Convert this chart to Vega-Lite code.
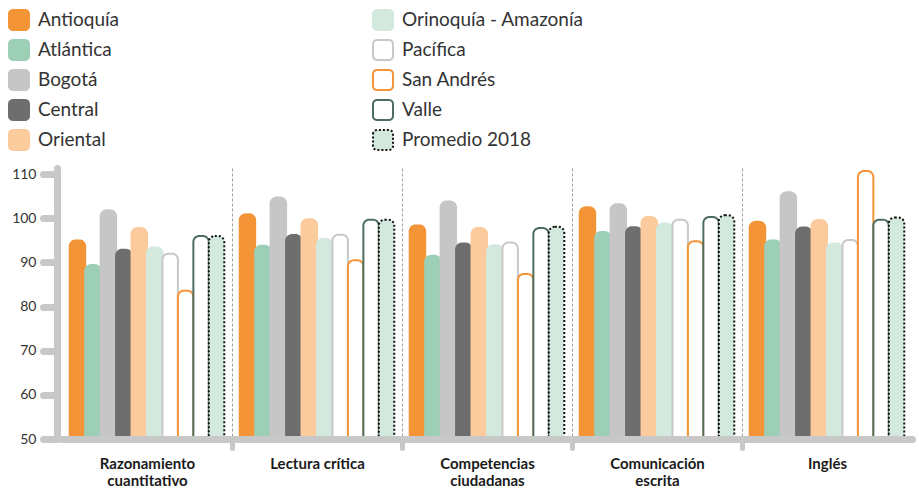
{
  "$schema": "https://vega.github.io/schema/vega-lite/v6.json",
  "width": 850,
  "height": 271,
  "autosize": {"type": "none"},
  "padding": {"left": 62, "top": 168, "right": 7, "bottom": 52},
  "background": "white",
  "config": {"view": {"stroke": null}, "font": "Lato"},
  "data": {
    "values": [
      {"prueba": "Razonamiento cuantitativo", "region": "Antioquía", "puntaje": 95.0},
      {"prueba": "Razonamiento cuantitativo", "region": "Atlántica", "puntaje": 89.4},
      {"prueba": "Razonamiento cuantitativo", "region": "Bogotá", "puntaje": 101.8},
      {"prueba": "Razonamiento cuantitativo", "region": "Central", "puntaje": 92.9},
      {"prueba": "Razonamiento cuantitativo", "region": "Oriental", "puntaje": 97.8},
      {"prueba": "Razonamiento cuantitativo", "region": "Orinoquía - Amazonía", "puntaje": 93.4},
      {"prueba": "Razonamiento cuantitativo", "region": "Pacífica", "puntaje": 92.0},
      {"prueba": "Razonamiento cuantitativo", "region": "San Andrés", "puntaje": 83.6},
      {"prueba": "Razonamiento cuantitativo", "region": "Valle", "puntaje": 96.0},
      {"prueba": "Razonamiento cuantitativo", "region": "Promedio 2018", "puntaje": 96.0},
      {"prueba": "Lectura crítica", "region": "Antioquía", "puntaje": 100.9},
      {"prueba": "Lectura crítica", "region": "Atlántica", "puntaje": 93.8},
      {"prueba": "Lectura crítica", "region": "Bogotá", "puntaje": 104.7},
      {"prueba": "Lectura crítica", "region": "Central", "puntaje": 96.2},
      {"prueba": "Lectura crítica", "region": "Oriental", "puntaje": 99.8},
      {"prueba": "Lectura crítica", "region": "Orinoquía - Amazonía", "puntaje": 95.3},
      {"prueba": "Lectura crítica", "region": "Pacífica", "puntaje": 96.3},
      {"prueba": "Lectura crítica", "region": "San Andrés", "puntaje": 90.5},
      {"prueba": "Lectura crítica", "region": "Valle", "puntaje": 99.7},
      {"prueba": "Lectura crítica", "region": "Promedio 2018", "puntaje": 99.7},
      {"prueba": "Competencias ciudadanas", "region": "Antioquía", "puntaje": 98.4},
      {"prueba": "Competencias ciudadanas", "region": "Atlántica", "puntaje": 91.5},
      {"prueba": "Competencias ciudadanas", "region": "Bogotá", "puntaje": 103.8},
      {"prueba": "Competencias ciudadanas", "region": "Central", "puntaje": 94.3},
      {"prueba": "Competencias ciudadanas", "region": "Oriental", "puntaje": 97.8},
      {"prueba": "Competencias ciudadanas", "region": "Orinoquía - Amazonía", "puntaje": 93.9},
      {"prueba": "Competencias ciudadanas", "region": "Pacífica", "puntaje": 94.5},
      {"prueba": "Competencias ciudadanas", "region": "San Andrés", "puntaje": 87.4},
      {"prueba": "Competencias ciudadanas", "region": "Valle", "puntaje": 97.8},
      {"prueba": "Competencias ciudadanas", "region": "Promedio 2018", "puntaje": 98.1},
      {"prueba": "Comunicación escrita", "region": "Antioquía", "puntaje": 102.5},
      {"prueba": "Comunicación escrita", "region": "Atlántica", "puntaje": 96.9},
      {"prueba": "Comunicación escrita", "region": "Bogotá", "puntaje": 103.2},
      {"prueba": "Comunicación escrita", "region": "Central", "puntaje": 98.0},
      {"prueba": "Comunicación escrita", "region": "Oriental", "puntaje": 100.3},
      {"prueba": "Comunicación escrita", "region": "Orinoquía - Amazonía", "puntaje": 98.8},
      {"prueba": "Comunicación escrita", "region": "Pacífica", "puntaje": 99.7},
      {"prueba": "Comunicación escrita", "region": "San Andrés", "puntaje": 94.8},
      {"prueba": "Comunicación escrita", "region": "Valle", "puntaje": 100.3},
      {"prueba": "Comunicación escrita", "region": "Promedio 2018", "puntaje": 100.7},
      {"prueba": "Inglés", "region": "Antioquía", "puntaje": 99.2},
      {"prueba": "Inglés", "region": "Atlántica", "puntaje": 95.0},
      {"prueba": "Inglés", "region": "Bogotá", "puntaje": 105.9},
      {"prueba": "Inglés", "region": "Central", "puntaje": 97.9},
      {"prueba": "Inglés", "region": "Oriental", "puntaje": 99.6},
      {"prueba": "Inglés", "region": "Orinoquía - Amazonía", "puntaje": 94.3},
      {"prueba": "Inglés", "region": "Pacífica", "puntaje": 95.1},
      {"prueba": "Inglés", "region": "San Andrés", "puntaje": 110.7},
      {"prueba": "Inglés", "region": "Valle", "puntaje": 99.7},
      {"prueba": "Inglés", "region": "Promedio 2018", "puntaje": 100.2}
    ]
  },
  "mark": {"type": "bar", "cornerRadiusTopLeft": 6, "cornerRadiusTopRight": 6, "strokeWidth": 2},
  "encoding": {
    "x": {
      "field": "prueba",
      "type": "nominal",
      "sort": ["Razonamiento cuantitativo", "Lectura crítica", "Competencias ciudadanas", "Comunicación escrita", "Inglés"],
      "scale": {"paddingInner": 0, "paddingOuter": 0},
      "axis": {
        "title": null,
        "tickBand": "extent",
        "zindex": 1,
        "domainColor": "#c8c8c8",
        "domainWidth": 7,
        "domainCap": "round",
        "tickColor": {"condition": {"test": "datum.value === 'Inglés' || datum.extra", "value": "transparent"}, "value": "#c8c8c8"},
        "tickWidth": 5,
        "tickSize": 9,
        "tickCap": "round",
        "grid": true,
        "gridColor": {"condition": {"test": "datum.value === 'Inglés' || datum.extra", "value": "transparent"}, "value": "#a0a0a0"},
        "gridDash": [3, 2],
        "gridWidth": 1,
        "labelAngle": 0,
        "labelFont": "Lato",
        "labelFontWeight": "bold",
        "labelFontSize": 15,
        "labelColor": "#1a1a1a",
        "labelPadding": 8,
        "labelLineHeight": 17,
        "labelExpr": "datum.label == 'Lectura crítica' || datum.label == 'Inglés' ? datum.label : split(datum.label, ' ')"
      }
    },
    "xOffset": {
      "field": "region",
      "type": "nominal",
      "sort": ["Antioquía", "Atlántica", "Bogotá", "Central", "Oriental", "Orinoquía - Amazonía", "Pacífica", "San Andrés", "Valle", "Promedio 2018"],
      "scale": {"paddingInner": 0, "paddingOuter": 0.5}
    },
    "y": {
      "field": "puntaje",
      "type": "quantitative",
      "scale": {"domain": [50, 111.4], "nice": false, "zero": false},
      "axis": {
        "title": null,
        "values": [50, 60, 70, 80, 90, 100, 110],
        "grid": false,
        "offset": 5,
        "domainColor": "#c8c8c8",
        "domainWidth": 7,
        "domainCap": "round",
        "tickColor": "#c8c8c8",
        "tickWidth": 7,
        "tickSize": 14,
        "tickCap": "round",
        "labelFont": "Lato",
        "labelFontSize": 14,
        "labelColor": "#333333",
        "labelPadding": 7
      }
    },
    "y2": {"datum": 50},
    "fill": {
      "field": "region",
      "type": "nominal",
      "scale": {
        "domain": ["Antioquía", "Atlántica", "Bogotá", "Central", "Oriental", "Orinoquía - Amazonía", "Pacífica", "San Andrés", "Valle", "Promedio 2018"],
        "range": ["#f39437", "#9dcfb7", "#c6c6c6", "#6e6e6e", "#fbca9d", "#d3e9dd", "#ffffff", "#ffffff", "#ffffff", "#d3e9dd"]
      },
      "legend": {
        "title": null,
        "orient": "none",
        "legendX": -54,
        "legendY": -159,
        "columns": 2,
        "symbolType": "M -1 -0.6 A 0.4 0.4 0 0 1 -0.6 -1 L 0.6 -1 A 0.4 0.4 0 0 1 1 -0.6 L 1 0.6 A 0.4 0.4 0 0 1 0.6 1 L -0.6 1 A 0.4 0.4 0 0 1 -1 0.6 Z",
        "symbolSize": 400,
        "symbolStrokeWidth": 2,
        "symbolOpacity": 1,
        "labelFont": "Lato",
        "labelFontSize": 19,
        "labelColor": "#333333",
        "labelOffset": 8,
        "labelLimit": 300,
        "rowPadding": 2,
        "columnPadding": 249,
        "padding": 0
      }
    },
    "stroke": {
      "field": "region",
      "type": "nominal",
      "scale": {
        "domain": ["Antioquía", "Atlántica", "Bogotá", "Central", "Oriental", "Orinoquía - Amazonía", "Pacífica", "San Andrés", "Valle", "Promedio 2018"],
        "range": ["#f39437", "#9dcfb7", "#c6c6c6", "#6e6e6e", "#fbca9d", "#d3e9dd", "#c8c8c8", "#f39437", "#4d6e5e", "#111111"]
      }
    },
    "strokeDash": {
      "field": "region",
      "type": "nominal",
      "scale": {
        "domain": ["Antioquía", "Atlántica", "Bogotá", "Central", "Oriental", "Orinoquía - Amazonía", "Pacífica", "San Andrés", "Valle", "Promedio 2018"],
        "range": [[1, 0], [1, 0], [1, 0], [1, 0], [1, 0], [1, 0], [1, 0], [1, 0], [1, 0], [2, 2]]
      }
    }
  }
}
